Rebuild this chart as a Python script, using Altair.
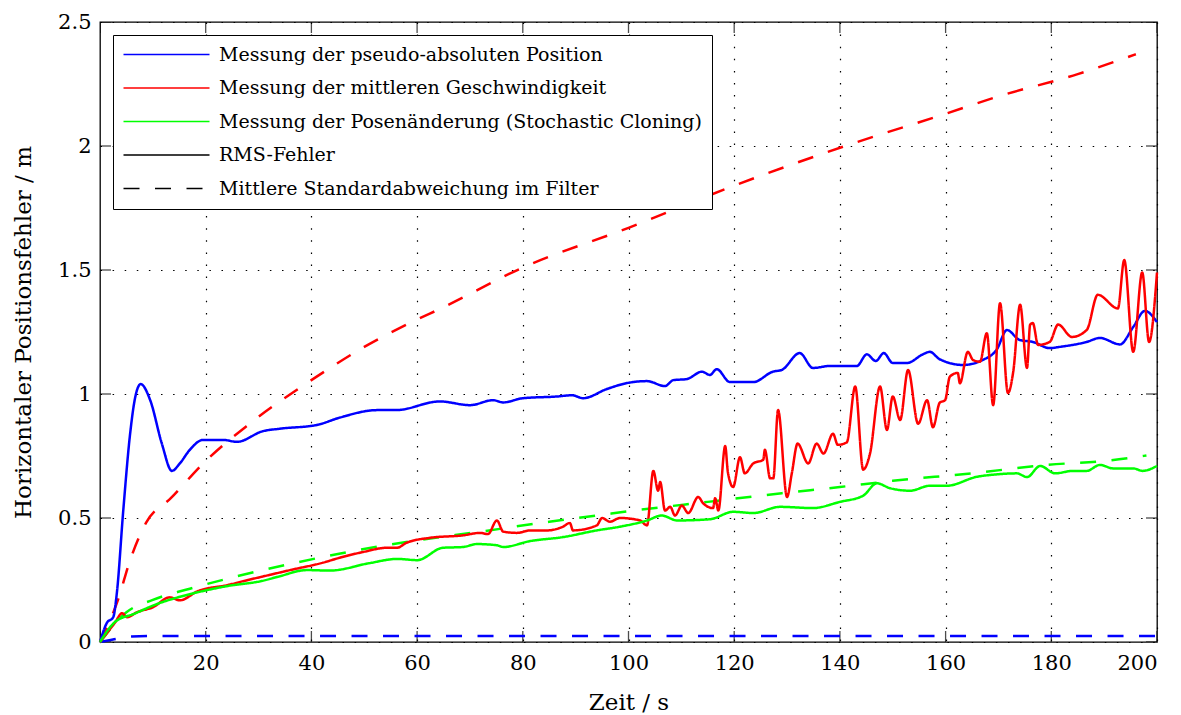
import altair as alt
import pandas as pd

# Legend entries
labels = [
    "Messung der pseudo-absoluten Position",
    "Messung der mittleren Geschwindigkeit",
    "Messung der Posenänderung (Stochastic Cloning)",
    "RMS-Fehler",
    "Mittlere Standardabweichung im Filter",
]

# Axis ticks
xticks = [0, 20, 40, 60, 80, 100, 120, 140, 160, 180, 200]
yticks = [0, 0.5, 1, 1.5, 2, 2.5]

# RMS error, pseudo-absolute position measurement
pos_t = [0, 1.3, 2.5, 3.2, 4.4, 5.7, 6.6, 7.7, 9.5, 11.7, 13.6, 15.1, 17, 19.5, 23.3,
         25.9, 30.8, 34, 41, 45.4, 52.4, 56, 64.3, 70, 74.4, 76.3, 80, 86.5, 89.3,
         91.4, 95.9, 99.7, 103.5, 106.9, 108.5, 111, 113.9, 115.4, 116.7, 119.2,
         123.6, 127.3, 129, 132.4, 134.9, 138.1, 143.2, 145.1, 146.8, 148.3, 150,
         152.7, 155.7, 157, 158.9, 163.3, 167, 169.7, 171.6, 174, 176.5, 179.7,
         181.6, 186.7, 189.2, 193, 195.5, 197.7, 200]
pos_y = [0, 0.077, 0.1, 0.2, 0.53, 0.84, 0.98, 1.04, 0.975, 0.80, 0.69, 0.72, 0.775,
         0.815, 0.815, 0.807, 0.85, 0.86, 0.875, 0.905, 0.935, 0.935, 0.97, 0.955,
         0.975, 0.966, 0.983, 0.99, 0.995, 0.983, 1.02, 1.044, 1.052, 1.032, 1.056,
         1.06, 1.09, 1.077, 1.10, 1.048, 1.048, 1.09, 1.097, 1.165, 1.105, 1.113,
         1.113, 1.16, 1.133, 1.165, 1.125, 1.125, 1.16, 1.17, 1.14, 1.117, 1.137,
         1.18, 1.258, 1.218, 1.21, 1.185, 1.19, 1.21, 1.226, 1.2, 1.27, 1.335, 1.29]

# RMS error, mean velocity measurement
vel_t = [0, 2.8, 4.2, 5.1, 7, 10, 13.2, 15.1, 18.5, 24.2, 28, 32, 36, 42.2, 45.4, 49.8,
         54.3, 56.2, 58, 62.4, 68.7, 71.9, 73.4, 75.1, 76.3, 78.9, 81.4, 84.6, 87.6,
         88.9, 89.5, 94, 95, 96.5, 98.4, 102.2, 103.5, 104.7, 105.6, 106, 106.9,
         107.9, 108.8, 110.1, 111.3, 113.2, 114.1, 116, 116.4, 117, 118.3, 118.8,
         119.8, 121.1, 122, 123.6, 125.5, 125.8, 126.8, 127.4, 128.3, 130, 130.9,
         132, 134, 135.6, 136.9, 138.7, 139.6, 141.3, 142.9, 144.4, 145.7, 147.6,
         148.9, 150, 151.4, 152.9, 154.8, 156.5, 157.6, 158.9, 159.9, 160.8, 162.3,
         162.7, 164.2, 165.2, 166.5, 167.8, 169, 170.3, 171.8, 172.8, 174.1, 175.4,
         176, 176.5, 177.5, 179.7, 181.3, 183.9, 186.7, 188.8, 192.6, 193.8, 195.5,
         197.2, 198.5, 200]
vel_y = [0, 0.077, 0.116, 0.10, 0.12, 0.14, 0.18, 0.168, 0.205, 0.23, 0.25, 0.27, 0.29,
         0.32, 0.34, 0.363, 0.38, 0.38, 0.40, 0.42, 0.43, 0.44, 0.435, 0.49, 0.445,
         0.44, 0.45, 0.45, 0.465, 0.48, 0.45, 0.47, 0.50, 0.485, 0.50, 0.49, 0.47,
         0.69, 0.61, 0.645, 0.53, 0.545, 0.51, 0.55, 0.52, 0.585, 0.56, 0.54, 0.58,
         0.53, 0.79, 0.685, 0.625, 0.745, 0.68, 0.72, 0.735, 0.775, 0.66, 0.66, 0.935,
         0.585, 0.68, 0.80, 0.72, 0.80, 0.76, 0.84, 0.795, 0.805, 1.03, 0.695, 0.76,
         1.03, 0.855, 0.99, 0.895, 1.097, 0.88, 0.975, 0.866, 0.965, 0.975, 1.07,
         1.085, 1.043, 1.17, 1.137, 1.13, 1.245, 0.955, 1.366, 1.004, 1.09, 1.36,
         1.105, 1.28, 1.286, 1.198, 1.21, 1.28, 1.23, 1.258, 1.40, 1.345, 1.54, 1.17,
         1.49, 1.21, 1.49]

# RMS error, pose change measurement (stochastic cloning)
sc_t = [0, 2.8, 6.6, 10.4, 18, 24.2, 30.6, 33.5, 39.2, 43.5, 51, 56.2, 60, 64.9, 68.7,
        71.3, 75.1, 76.3, 81.4, 87.6, 94, 98.4, 103.5, 106.3, 109.2, 115.4, 119.8,
        123.6, 128.7, 134.9, 140, 144.4, 147, 149.5, 153.3, 157, 160.2, 165.9, 169.7,
        173.5, 175.4, 177.9, 180.7, 184.1, 186.7, 189.2, 191.7, 195.5, 197.3, 200]
sc_y = [0, 0.08, 0.115, 0.15, 0.198, 0.226, 0.246, 0.262, 0.29, 0.288, 0.318, 0.335,
        0.33, 0.38, 0.383, 0.395, 0.39, 0.383, 0.407, 0.423, 0.45, 0.465, 0.49, 0.51,
        0.49, 0.495, 0.525, 0.52, 0.545, 0.54, 0.565, 0.59, 0.64, 0.62, 0.61, 0.63,
        0.63, 0.666, 0.676, 0.68, 0.665, 0.71, 0.68, 0.69, 0.69, 0.714, 0.70, 0.70,
        0.69, 0.71]

# Mean filter standard deviation per measurement type
pos_std_t = [0, 2, 4, 6, 10, 50, 100, 150, 200]
pos_std_y = [0, 0.008, 0.016, 0.022, 0.024, 0.024, 0.024, 0.024, 0.024]

vel_std_t = [0, 3.4, 5.7, 8.7, 13.4, 20, 28, 41, 50, 59, 65, 80, 100, 120, 141, 160,
             170, 185, 196]
vel_std_y = [0, 0.17, 0.33, 0.48, 0.58, 0.73, 0.875, 1.07, 1.19, 1.29, 1.35, 1.51,
             1.67, 1.84, 2.0, 2.13, 2.2, 2.29, 2.37]

sc_std_t = [0, 5, 10, 17, 25, 35, 45, 60, 72, 85, 94, 101, 115, 129, 140, 150, 165,
            179, 190, 198]
sc_std_y = [0, 0.12, 0.17, 0.215, 0.26, 0.31, 0.355, 0.41, 0.445, 0.485, 0.51, 0.53,
            0.565, 0.60, 0.625, 0.65, 0.68, 0.714, 0.73, 0.752]

BLUE, RED, GREEN = "#0000ff", "#ff0000", "#00ff00"
DASH = [16, 15.5]
SERIF = "'DejaVu Serif', serif"

solid = pd.concat([
    pd.DataFrame({"t": pos_t, "y": pos_y, "Kurve": labels[0]}),
    pd.DataFrame({"t": vel_t, "y": vel_y, "Kurve": labels[1]}),
    pd.DataFrame({"t": sc_t, "y": sc_y, "Kurve": labels[2]}),
])

x_scale = alt.Scale(domain=[0, 200], nice=False, zero=False)
y_scale = alt.Scale(domain=[0, 2.5], nice=False, zero=False)
x_axis = alt.Axis(values=xticks[1:], title="Zeit / s", grid=True, labelPadding=10,
                  titlePadding=18)
y_axis = alt.Axis(values=yticks, title="Horizontaler Positionsfehler / m", grid=True,
                  format="~g", labelPadding=9, titlePadding=22)


def xe(field="t"):
    return alt.X(f"{field}:Q", scale=x_scale, axis=x_axis)


def ye(field="y"):
    return alt.Y(f"{field}:Q", scale=y_scale, axis=y_axis)


legend = alt.Legend(
    title=None, orient="top-left", offset=13, padding=10,
    fillColor="white", strokeColor="black",
    labelFont=SERIF, labelFontSize=19, labelColor="black", labelLimit=1000,
    symbolType="M-1.8,0H15.4", symbolSize=100, symbolStrokeWidth=1.5,
    labelOffset=77, rowPadding=13.5,
)

solid_lines = alt.Chart(solid).mark_line(interpolate="monotone").encode(
    x=xe(), y=ye(),
    color=alt.Color("Kurve:N", sort=labels,
                    scale=alt.Scale(domain=labels,
                                    range=[BLUE, RED, GREEN, "black", "black"]),
                    legend=legend),
    strokeDash=alt.StrokeDash("Kurve:N", sort=labels,
                              scale=alt.Scale(domain=labels,
                                              range=[[1, 0], [1, 0], [1, 0], [1, 0], DASH]),
                              legend=legend),
    strokeWidth=alt.value(2.5),
    order=alt.Order("t:Q"),
)


def dashed(ts, ys, color):
    df = pd.DataFrame({"t": ts, "y": ys})
    return alt.Chart(df).mark_line(interpolate="monotone").encode(
        x=xe(), y=ye(),
        color=alt.value(color), strokeDash=alt.value(DASH), strokeWidth=alt.value(2.5),
    )


# Inward tick marks on all four sides of the frame
xt = pd.DataFrame({"t": xticks, "lo": 0.0, "hi": 2.5})
yt = pd.DataFrame({"y": yticks, "lo": 0.0, "hi": 200.0})
tick_kw = dict(color="black", thickness=1.3, size=22, clip=True)
ticks = [
    alt.Chart(xt).mark_tick(orient="vertical", **tick_kw).encode(x=xe(), y=ye("lo")),
    alt.Chart(xt).mark_tick(orient="vertical", **tick_kw).encode(x=xe(), y=ye("hi")),
    alt.Chart(yt).mark_tick(orient="horizontal", **tick_kw).encode(x=xe("lo"), y=ye()),
    alt.Chart(yt).mark_tick(orient="horizontal", **tick_kw).encode(x=xe("hi"), y=ye()),
]

chart = alt.layer(
    *ticks,
    dashed(pos_std_t, pos_std_y, BLUE),
    dashed(vel_std_t, vel_std_y, RED),
    dashed(sc_std_t, sc_std_y, GREEN),
    solid_lines,
).properties(
    width=1057, height=620,
    autosize="none",
    padding={"left": 100, "top": 22, "right": 24, "bottom": 73},
    background="white",
).configure_view(
    stroke="black", strokeWidth=1.3,
).configure_axis(
    labelFont=SERIF, labelFontSize=21, labelColor="black",
    titleFont=SERIF, titleFontSize=23, titleFontWeight="normal", titleColor="black",
    domain=False, ticks=False,
    gridColor="black", gridDash=[1.5, 10.6], gridWidth=1.2, gridOpacity=1,
)

chart.save("out.html", embed_options={"renderer": "svg", "actions": False})
